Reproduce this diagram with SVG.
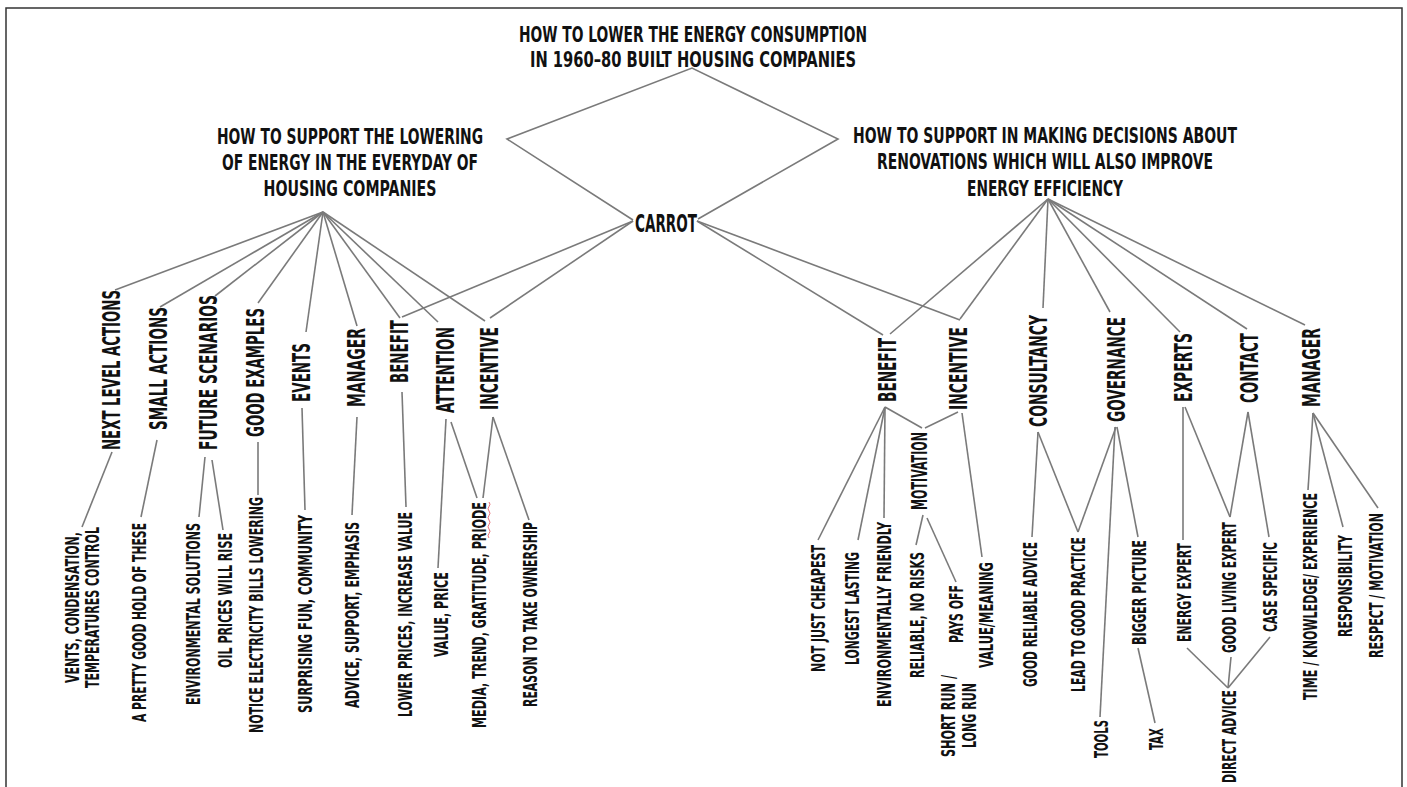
<svg xmlns="http://www.w3.org/2000/svg" width="1407" height="787" viewBox="0 0 1407 787">
<style>
text{font-family:"DejaVu Sans Condensed","Liberation Sans",sans-serif;font-weight:bold;fill:#111;text-anchor:middle}
.h{font-size:21px}
.c{font-size:24px}
.m{font-size:25px}
.mo{font-size:22px}
.s{font-size:19px}
#connectors line,#connectors polyline{stroke:#7a7a7a;stroke-width:1.6;fill:none}
.frame{fill:none;stroke:#333;stroke-width:1.5}
</style>
<rect width="1407" height="787" fill="#fff"/>
<path class="frame" d="M6,790 V8 H1402 V790"/>
<g id="connectors">
<polyline points="633,220 507,139 692,68 838,139 698,219"/>
<line x1="323" y1="212" x2="115" y2="290"/>
<line x1="323" y1="212" x2="160" y2="307"/>
<line x1="323" y1="212" x2="215" y2="296"/>
<line x1="323" y1="212" x2="258" y2="303"/>
<line x1="323" y1="212" x2="306" y2="332"/>
<line x1="323" y1="212" x2="357" y2="326"/>
<line x1="323" y1="212" x2="400" y2="318"/>
<line x1="323" y1="212" x2="438" y2="322"/>
<line x1="323" y1="212" x2="485" y2="321"/>
<line x1="633" y1="221" x2="402" y2="317"/>
<line x1="633" y1="221" x2="490" y2="318"/>
<line x1="697" y1="221" x2="883" y2="335"/>
<line x1="697" y1="221" x2="960" y2="320"/>
<line x1="1048" y1="199" x2="890" y2="334"/>
<line x1="1048" y1="199" x2="960" y2="319"/>
<line x1="1048" y1="199" x2="1043" y2="308"/>
<line x1="1048" y1="199" x2="1110" y2="312"/>
<line x1="1048" y1="199" x2="1180" y2="332"/>
<line x1="1048" y1="199" x2="1247" y2="329"/>
<line x1="1048" y1="199" x2="1305" y2="325"/>
<line x1="112" y1="452" x2="82" y2="527"/>
<line x1="157" y1="440" x2="141" y2="517"/>
<line x1="205" y1="457" x2="199" y2="517"/>
<line x1="212" y1="460" x2="223" y2="530"/>
<line x1="258" y1="442" x2="258" y2="495"/>
<line x1="302" y1="408" x2="305" y2="510"/>
<line x1="357" y1="417" x2="352" y2="515"/>
<line x1="402" y1="392" x2="406" y2="507"/>
<line x1="446" y1="419" x2="438" y2="568"/>
<line x1="451" y1="422" x2="477" y2="498"/>
<line x1="493" y1="417" x2="483" y2="498"/>
<line x1="493" y1="417" x2="529" y2="520"/>
<line x1="885" y1="407" x2="922" y2="428"/>
<line x1="958" y1="412" x2="925" y2="428"/>
<line x1="885" y1="407" x2="818" y2="540"/>
<line x1="885" y1="407" x2="858" y2="540"/>
<line x1="885" y1="407" x2="884" y2="518"/>
<line x1="923" y1="515" x2="916" y2="545"/>
<line x1="927" y1="518" x2="956" y2="582"/>
<line x1="962" y1="413" x2="982" y2="557"/>
<line x1="1038" y1="432" x2="1032" y2="537"/>
<line x1="1038" y1="432" x2="1078" y2="532"/>
<line x1="1116" y1="427" x2="1078" y2="532"/>
<line x1="1115" y1="427" x2="1100" y2="717"/>
<line x1="1117" y1="427" x2="1138" y2="537"/>
<line x1="1138" y1="648" x2="1155" y2="723"/>
<line x1="1183" y1="407" x2="1183" y2="540"/>
<line x1="1185" y1="407" x2="1230" y2="517"/>
<line x1="1248" y1="412" x2="1230" y2="517"/>
<line x1="1248" y1="412" x2="1269" y2="537"/>
<line x1="1187" y1="648" x2="1228" y2="688"/>
<line x1="1231" y1="657" x2="1228" y2="688"/>
<line x1="1270" y1="637" x2="1228" y2="688"/>
<line x1="1313" y1="413" x2="1308" y2="490"/>
<line x1="1313" y1="413" x2="1343" y2="527"/>
<line x1="1313" y1="413" x2="1378" y2="508"/>
</g>
<g id="title">
<text class="h" x="693" y="42" textLength="348" lengthAdjust="spacingAndGlyphs">HOW TO LOWER THE ENERGY CONSUMPTION</text>
<text class="h" x="693" y="67" textLength="326" lengthAdjust="spacingAndGlyphs">IN 1960–80 BUILT HOUSING COMPANIES</text>
</g>
<g id="left-heading">
<text class="h" x="350" y="144" textLength="266" lengthAdjust="spacingAndGlyphs">HOW TO SUPPORT THE LOWERING</text>
<text class="h" x="350" y="170" textLength="256" lengthAdjust="spacingAndGlyphs">OF ENERGY IN THE EVERYDAY OF</text>
<text class="h" x="350" y="196" textLength="173" lengthAdjust="spacingAndGlyphs">HOUSING COMPANIES</text>
</g>
<g id="right-heading">
<text class="h" x="1045" y="143" textLength="384" lengthAdjust="spacingAndGlyphs">HOW TO SUPPORT IN MAKING DECISIONS ABOUT</text>
<text class="h" x="1045" y="169" textLength="336" lengthAdjust="spacingAndGlyphs">RENOVATIONS WHICH WILL ALSO IMPROVE</text>
<text class="h" x="1045" y="196" textLength="156" lengthAdjust="spacingAndGlyphs">ENERGY EFFICIENCY</text>
</g>
<g id="carrot">
<text class="c" x="666" y="232" textLength="62" lengthAdjust="spacingAndGlyphs">CARROT</text>
</g>
<g id="next-level-actions"><text class="m" transform="translate(120,370) rotate(-90)" textLength="160" lengthAdjust="spacingAndGlyphs">NEXT LEVEL ACTIONS</text></g>
<g id="small-actions"><text class="m" transform="translate(167,368.5) rotate(-90)" textLength="123" lengthAdjust="spacingAndGlyphs">SMALL ACTIONS</text></g>
<g id="future-scenarios"><text class="m" transform="translate(217,372.5) rotate(-90)" textLength="155" lengthAdjust="spacingAndGlyphs">FUTURE SCENARIOS</text></g>
<g id="good-examples"><text class="m" transform="translate(264,372.5) rotate(-90)" textLength="129" lengthAdjust="spacingAndGlyphs">GOOD EXAMPLES</text></g>
<g id="events"><text class="m" transform="translate(310,372.5) rotate(-90)" textLength="59" lengthAdjust="spacingAndGlyphs">EVENTS</text></g>
<g id="manager-left"><text class="m" transform="translate(365,367.5) rotate(-90)" textLength="79" lengthAdjust="spacingAndGlyphs">MANAGER</text></g>
<g id="benefit-left"><text class="m" transform="translate(408,351.5) rotate(-90)" textLength="63" lengthAdjust="spacingAndGlyphs">BENEFIT</text></g>
<g id="attention"><text class="m" transform="translate(454,370) rotate(-90)" textLength="86" lengthAdjust="spacingAndGlyphs">ATTENTION</text></g>
<g id="incentive-left"><text class="m" transform="translate(498,368.5) rotate(-90)" textLength="83" lengthAdjust="spacingAndGlyphs">INCENTIVE</text></g>
<g id="benefit-right"><text class="m" transform="translate(896,370) rotate(-90)" textLength="64" lengthAdjust="spacingAndGlyphs">BENEFIT</text></g>
<g id="incentive-right"><text class="m" transform="translate(967,368.5) rotate(-90)" textLength="83" lengthAdjust="spacingAndGlyphs">INCENTIVE</text></g>
<g id="consultancy"><text class="m" transform="translate(1047,371) rotate(-90)" textLength="112" lengthAdjust="spacingAndGlyphs">CONSULTANCY</text></g>
<g id="governance"><text class="m" transform="translate(1125,369.5) rotate(-90)" textLength="105" lengthAdjust="spacingAndGlyphs">GOVERNANCE</text></g>
<g id="experts"><text class="m" transform="translate(1192,367.5) rotate(-90)" textLength="69" lengthAdjust="spacingAndGlyphs">EXPERTS</text></g>
<g id="contact"><text class="m" transform="translate(1258,368) rotate(-90)" textLength="70" lengthAdjust="spacingAndGlyphs">CONTACT</text></g>
<g id="manager-right"><text class="m" transform="translate(1320,367.5) rotate(-90)" textLength="79" lengthAdjust="spacingAndGlyphs">MANAGER</text></g>
<g id="motivation"><text class="mo" transform="translate(927,471) rotate(-90)" textLength="78" lengthAdjust="spacingAndGlyphs">MOTIVATION</text></g>
<g id="vents"><text class="s" transform="translate(79,607.5) rotate(-90)" textLength="151" lengthAdjust="spacingAndGlyphs">VENTS, CONDENSATION,</text><text class="s" transform="translate(99,607.5) rotate(-90)" textLength="161" lengthAdjust="spacingAndGlyphs">TEMPERATURES CONTROL</text></g>
<g id="pretty-good"><text class="s" transform="translate(146,622.5) rotate(-90)" textLength="199" lengthAdjust="spacingAndGlyphs">A PRETTY GOOD HOLD OF THESE</text></g>
<g id="env-solutions"><text class="s" transform="translate(200,614) rotate(-90)" textLength="182" lengthAdjust="spacingAndGlyphs">ENVIRONMENTAL SOLUTIONS</text></g>
<g id="oil-prices"><text class="s" transform="translate(232,600.5) rotate(-90)" textLength="135" lengthAdjust="spacingAndGlyphs">OIL PRICES WILL RISE</text></g>
<g id="notice-bills"><text class="s" transform="translate(263,615) rotate(-90)" textLength="236" lengthAdjust="spacingAndGlyphs">NOTICE ELECTRICITY BILLS LOWERING</text></g>
<g id="surprising-fun"><text class="s" transform="translate(312,614) rotate(-90)" textLength="198" lengthAdjust="spacingAndGlyphs">SURPRISING FUN, COMMUNITY</text></g>
<g id="advice-support"><text class="s" transform="translate(359,615) rotate(-90)" textLength="186" lengthAdjust="spacingAndGlyphs">ADVICE, SUPPORT, EMPHASIS</text></g>
<g id="lower-prices"><text class="s" transform="translate(412,614.5) rotate(-90)" textLength="205" lengthAdjust="spacingAndGlyphs">LOWER PRICES, INCREASE VALUE</text></g>
<g id="value-price"><text class="s" transform="translate(448,614.5) rotate(-90)" textLength="85" lengthAdjust="spacingAndGlyphs">VALUE, PRICE</text></g>
<g id="media-trend"><text class="s" transform="translate(486,615) rotate(-90)" textLength="226" lengthAdjust="spacingAndGlyphs">MEDIA, TREND, GRATITUDE, PRIODE</text><path d="M489,502 q2,2.25 0,4.5 t0,4.5 t0,4.5 t0,4.5 t0,4.5 t0,4.5 t0,4.5 t0,4.5" fill="none" stroke="#e8707a" stroke-width="1"/></g>
<g id="reason-ownership"><text class="s" transform="translate(537,614.5) rotate(-90)" textLength="185" lengthAdjust="spacingAndGlyphs">REASON TO TAKE OWNERSHIP</text></g>
<g id="not-just-cheapest"><text class="s" transform="translate(825,608.5) rotate(-90)" textLength="127" lengthAdjust="spacingAndGlyphs">NOT JUST CHEAPEST</text></g>
<g id="longest-lasting"><text class="s" transform="translate(859,608.5) rotate(-90)" textLength="113" lengthAdjust="spacingAndGlyphs">LONGEST LASTING</text></g>
<g id="env-friendly"><text class="s" transform="translate(891,614.5) rotate(-90)" textLength="185" lengthAdjust="spacingAndGlyphs">ENVIRONMENTALLY FRIENDLY</text></g>
<g id="reliable"><text class="s" transform="translate(924,615) rotate(-90)" textLength="126" lengthAdjust="spacingAndGlyphs">RELIABLE, NO RISKS</text></g>
<g id="pays-off"><text class="s" transform="translate(963,614) rotate(-90)" textLength="58" lengthAdjust="spacingAndGlyphs">PAYS OFF</text></g>
<g id="short-long-run"><text class="s" transform="translate(955,716) rotate(-90)" textLength="82" lengthAdjust="spacingAndGlyphs">SHORT RUN /</text><text class="s" transform="translate(976,715.5) rotate(-90)" textLength="65" lengthAdjust="spacingAndGlyphs">LONG RUN</text></g>
<g id="value-meaning"><text class="s" transform="translate(993,615) rotate(-90)" textLength="106" lengthAdjust="spacingAndGlyphs">VALUE/MEANING</text></g>
<g id="good-reliable-advice"><text class="s" transform="translate(1037,614.5) rotate(-90)" textLength="145" lengthAdjust="spacingAndGlyphs">GOOD RELIABLE ADVICE</text></g>
<g id="lead-good-practice"><text class="s" transform="translate(1085,614.5) rotate(-90)" textLength="155" lengthAdjust="spacingAndGlyphs">LEAD TO GOOD PRACTICE</text></g>
<g id="tools"><text class="s" transform="translate(1108,739) rotate(-90)" textLength="38" lengthAdjust="spacingAndGlyphs">TOOLS</text></g>
<g id="bigger-picture"><text class="s" transform="translate(1146,592.5) rotate(-90)" textLength="105" lengthAdjust="spacingAndGlyphs">BIGGER PICTURE</text></g>
<g id="tax"><text class="s" transform="translate(1163,739) rotate(-90)" textLength="22" lengthAdjust="spacingAndGlyphs">TAX</text></g>
<g id="energy-expert"><text class="s" transform="translate(1191,592.5) rotate(-90)" textLength="99" lengthAdjust="spacingAndGlyphs">ENERGY EXPERT</text></g>
<g id="good-living-expert"><text class="s" transform="translate(1236,587.5) rotate(-90)" textLength="131" lengthAdjust="spacingAndGlyphs">GOOD LIVING EXPERT</text></g>
<g id="case-specific"><text class="s" transform="translate(1277,587) rotate(-90)" textLength="90" lengthAdjust="spacingAndGlyphs">CASE SPECIFIC</text></g>
<g id="direct-advice"><text class="s" transform="translate(1236,736.5) rotate(-90)" textLength="93" lengthAdjust="spacingAndGlyphs">DIRECT ADVICE</text></g>
<g id="time-knowledge"><text class="s" transform="translate(1317,596.5) rotate(-90)" textLength="207" lengthAdjust="spacingAndGlyphs">TIME / KNOWLEDGE/ EXPERIENCE</text></g>
<g id="responsibility"><text class="s" transform="translate(1352,586) rotate(-90)" textLength="102" lengthAdjust="spacingAndGlyphs">RESPONSIBILITY</text></g>
<g id="respect-motivation"><text class="s" transform="translate(1383,585.5) rotate(-90)" textLength="145" lengthAdjust="spacingAndGlyphs">RESPECT / MOTIVATION</text></g>
</svg>
